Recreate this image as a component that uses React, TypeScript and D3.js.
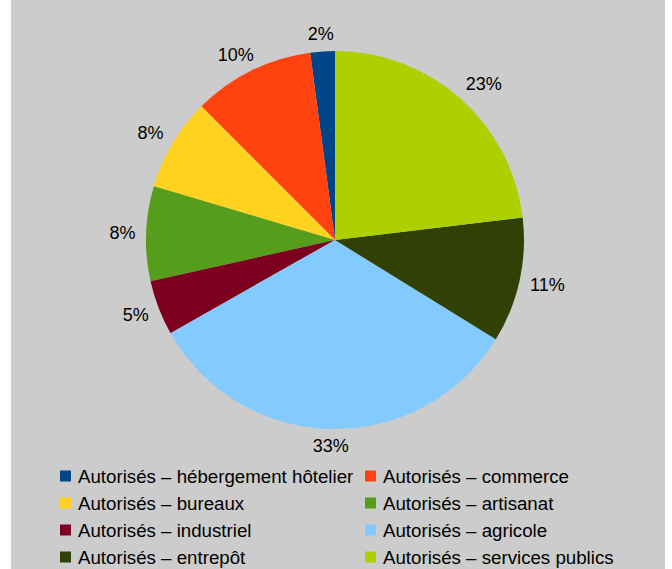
import React from "react";
import * as d3 from "d3";

const categories = [
  "Autorisés – hébergement hôtelier",
  "Autorisés – commerce",
  "Autorisés – bureaux",
  "Autorisés – artisanat",
  "Autorisés – industriel",
  "Autorisés – agricole",
  "Autorisés – entrepôt",
  "Autorisés – services publics",
];
const values = [2.1, 10.4, 7.9, 8.1, 4.7, 33.0, 10.7, 23.1];
const colors = ["#004586", "#ff420e", "#ffd320", "#579d1c", "#7e0021", "#83caff", "#314004", "#aecf00"];

const W = 672;
const H = 569;
const cx = 335;
const cy = 240;
const R = 189;
const FONT = "'Liberation Sans', Arial, sans-serif";

export default function App() {
  const total = d3.sum(values);
  // counterclockwise from 12 o'clock
  const pie = d3
    .pie<number>()
    .sort(null)
    .value((d) => d)
    .startAngle(0)
    .endAngle(-2 * Math.PI);
  const arcs = pie(values);
  const arcGen = d3.arc<d3.PieArcDatum<number>>().innerRadius(0).outerRadius(R);

  const labelFont = 18;
  const labels = arcs.map((a, i) => {
    const mid = (a.startAngle + a.endAngle) / 2;
    const s = Math.sin(mid);
    const c = Math.cos(mid);
    const text = `${Math.round((values[i] / total) * 100)}%`;
    const w = text.length === 2 ? 27 : 36;
    const h = 14;
    const px = cx + (R + 10) * s;
    const py = cy - (R + 10) * c;
    const k = 1.4;
    const clamp = (v: number) => Math.max(-1, Math.min(1, v));
    const x = px + (w / 2) * clamp(s * k);
    const y = py + (h / 2) * clamp(-c * k);
    return { x, y, text };
  });

  const legendCols = [60, 365];
  const legendRows = [476, 503, 530, 557];

  return (
    <div style={{ position: "fixed", left: 0, top: 0 }}>
      <svg width={W} height={H} style={{ display: "block" }}>
        <rect x={0} y={0} width={W} height={H} fill="#ffffff" />
        <rect x={11} y={0} width={654} height={H} fill="#cccccc" />
        <g transform={`translate(${cx},${cy})`}>
          {arcs.map((a, i) => (
            <path key={i} d={arcGen(a) || ""} fill={colors[i]} />
          ))}
        </g>
        {labels.map((l, i) => (
          <text
            key={i}
            x={l.x}
            y={l.y}
            textAnchor="middle"
            dominantBaseline="central"
            fontFamily={FONT}
            fontSize={labelFont}
            fill="#000"
          >
            {l.text}
          </text>
        ))}
        {categories.map((cat, i) => {
          const col = i % 2;
          const row = Math.floor(i / 2);
          const x = legendCols[col];
          const y = legendRows[row];
          return (
            <g key={cat}>
              <rect x={x} y={y - 5.5} width={11} height={11} fill={colors[i]} />
              <text
                x={x + 18}
                y={y}
                dominantBaseline="central"
                fontFamily={FONT}
                fontSize={18.7}
                fill="#000"
              >
                {cat}
              </text>
            </g>
          );
        })}
      </svg>
    </div>
  );
}
